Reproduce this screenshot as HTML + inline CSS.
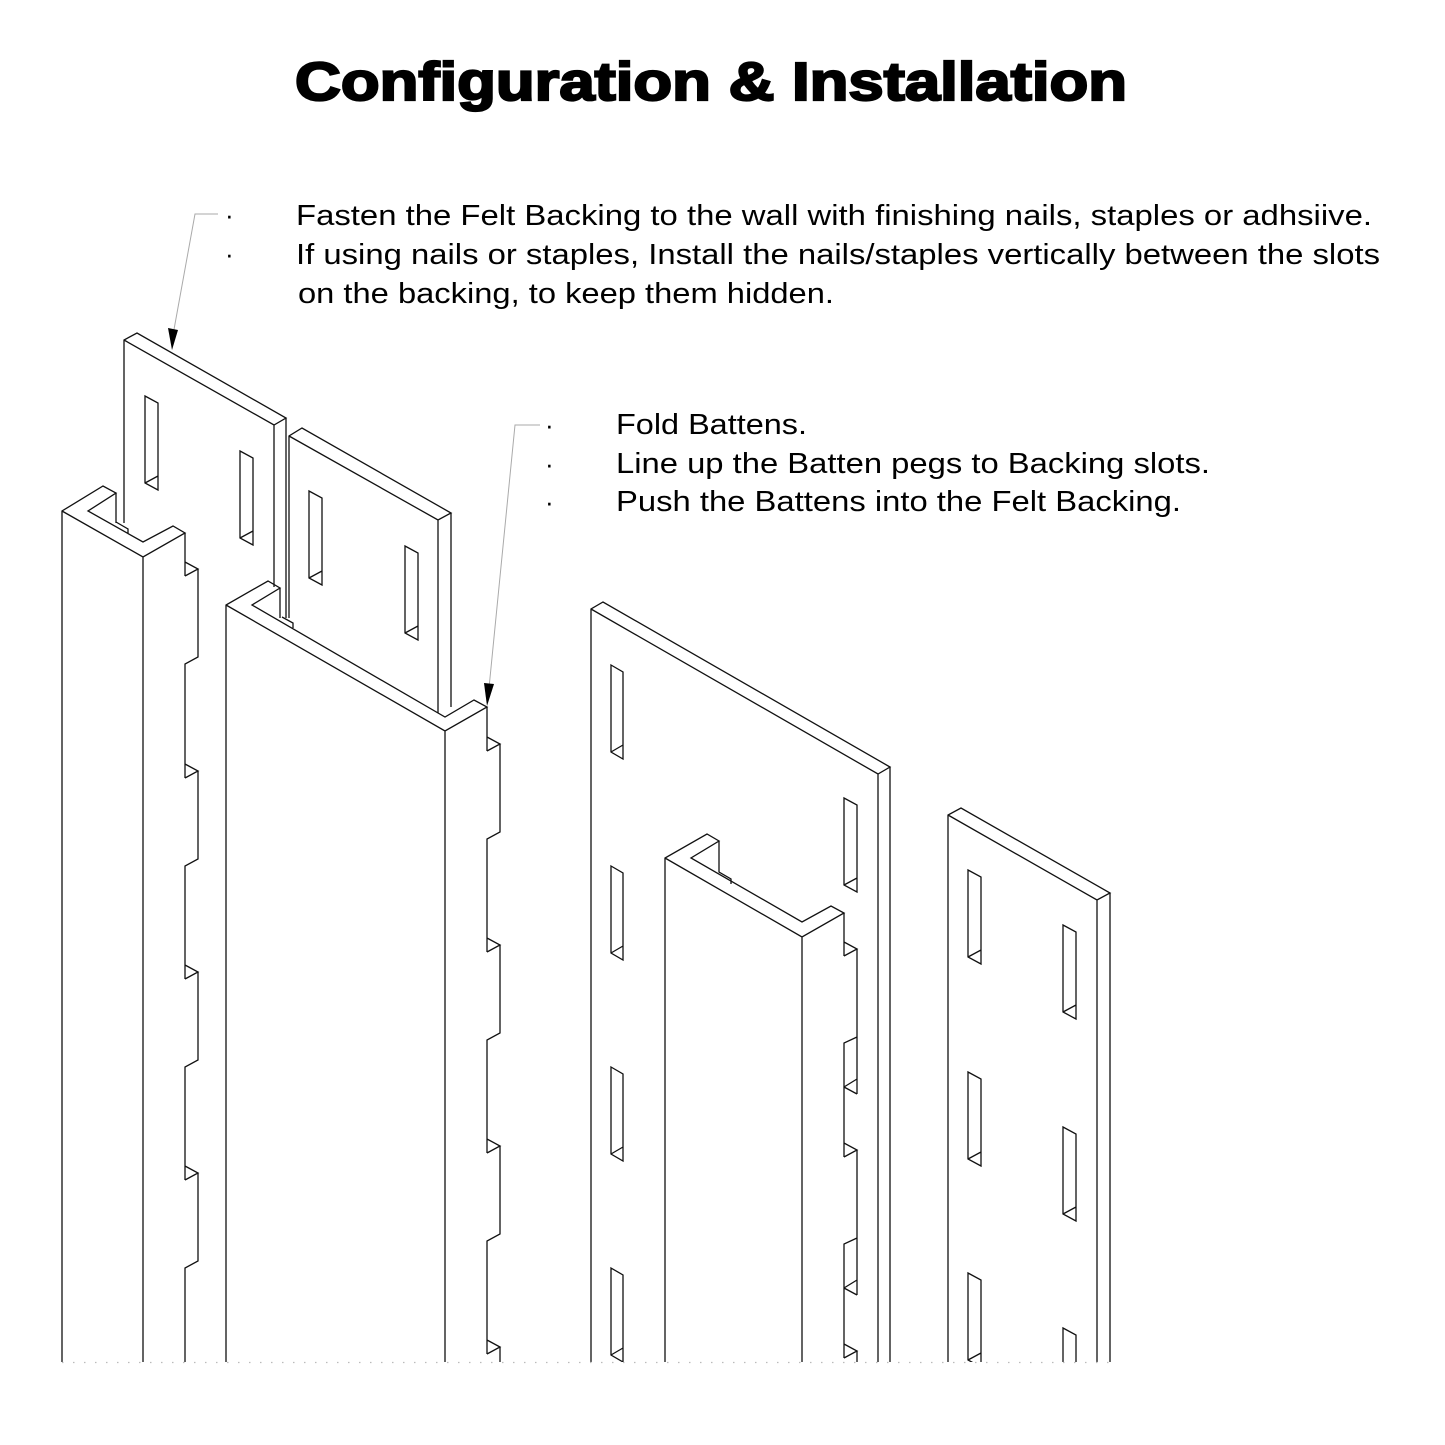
<!DOCTYPE html>
<html><head><meta charset="utf-8">
<style>
html,body{margin:0;padding:0;background:#fff;}
svg{display:block;}
</style></head>
<body>
<svg width="1445" height="1445" viewBox="0 0 1445 1445" xmlns="http://www.w3.org/2000/svg">
<rect width="1445" height="1445" fill="#fff"/>
<defs><clipPath id="c"><rect x="0" y="300" width="1445" height="1062"/></clipPath></defs>

<!-- Title -->
<text x="295" y="100" textLength="832" lengthAdjust="spacingAndGlyphs" font-family="Liberation Sans, Arial, sans-serif" font-weight="bold" font-size="54" fill="#000" stroke="#000" stroke-width="2.2">Configuration &amp; Installation</text>

<g font-family="Liberation Sans, Arial, sans-serif" font-size="29" fill="#000">
<text x="225" y="224" font-size="26">·</text>
<text x="225" y="263" font-size="26">·</text>
<text x="296" y="225" textLength="1076" lengthAdjust="spacingAndGlyphs">Fasten the Felt Backing to the wall with finishing nails, staples or adhsiive.</text>
<text x="296" y="264" textLength="1084" lengthAdjust="spacingAndGlyphs">If using nails or staples, Install the nails/staples vertically between the slots</text>
<text x="298" y="303" textLength="536" lengthAdjust="spacingAndGlyphs">on the backing, to keep them hidden.</text>

<text x="545" y="434" font-size="26">·</text>
<text x="545" y="473" font-size="26">·</text>
<text x="545" y="511" font-size="26">·</text>
<text x="616" y="434" textLength="191" lengthAdjust="spacingAndGlyphs">Fold Battens.</text>
<text x="616" y="473" textLength="594" lengthAdjust="spacingAndGlyphs">Line up the Batten pegs to Backing slots.</text>
<text x="616" y="511" textLength="565" lengthAdjust="spacingAndGlyphs">Push the Battens into the Felt Backing.</text>
</g>

<!-- leaders -->
<g stroke="#aaa" stroke-width="1" fill="none">
<polyline points="218,214 195,214 173,335"/>
<polyline points="540,425 515,425 489,688"/>
</g>
<polygon points="168,328 178,330 172,350" fill="#000"/>
<polygon points="484,683 494,684 487,706" fill="#000"/>

<g clip-path="url(#c)" stroke="#111" stroke-width="1.3" fill="none" stroke-linejoin="miter">
<!-- Backing 1 -->
<path d="M124 523 V340 L137 333 L286 418 L274 425 L124 340 M274 425 V587 M286 418 V618 M282 617 L293 623 V628"/>
<path d="M145 396 L158 403 V490 L145 483 Z M145 483 L158 476"/>
<path d="M240 451 L253 458 V545 L240 538 Z M240 538 L253 531"/>
<!-- Backing 2 -->
<path d="M289 618 V436 L302 428 L451 513 L438 520 L289 436 M438 520 V713 M451 513 V707"/>
<path d="M309 491 L322 498 V585 L309 578 Z M309 578 L322 571"/>
<path d="M405 546 L418 553 V640 L405 633 Z M405 633 L418 626"/>

<!-- Batten 1 -->
<path d="M62 1362 V511 L103 486 L116 493 L88 511 L143 542 L173 526 L185 533 L143 557 L62 511 M143 557 V1362 M116 493 V523 M116 522 L128 529 V534"/>
<path d="M185 533 V576 M185 562 L198 569 L185 576 M198 569 V657 L185 664 V778 M185 764 L198 771 L185 778 M198 771 V859 L185 866 V979 M185 965 L198 972 L185 979 M198 972 V1060 L185 1067 V1180 M185 1166 L198 1173 L185 1180 M198 1173 V1261 L185 1268 V1362"/>

<!-- Batten 2 -->
<path d="M226 1362 V605 L268 581 L280 588 L252 605 L445 717 L474 700 L487 707 L445 731 L226 605 M445 731 V1362 M280 588 V618"/>
<path d="M487 707 V751 M487 737 L500 744 L487 751 M500 744 V832 L487 839 V952 M487 938 L500 945 L487 952 M500 945 V1033 L487 1040 V1153 M487 1139 L500 1146 L487 1153 M500 1146 V1234 L487 1241 V1354 M487 1340 L500 1347 L487 1354 M500 1347 V1362"/>

<!-- Backing 3 -->
<path d="M591 1362 V609 L603 602 L890 767 L878 774 L591 609 M878 774 V1362 M890 767 V1362"/>
<path d="M611 665 L623 672 V759 L611 752 Z M611 752 L623 745"/>
<path d="M611 866 L623 873 V960 L611 953 Z M611 953 L623 946"/>
<path d="M611 1067 L623 1074 V1161 L611 1154 Z M611 1154 L623 1147"/>
<path d="M611 1268 L623 1275 V1362 L611 1355 Z M611 1355 L623 1348"/>
<path d="M844 798 L857 805 V892 L844 885 Z M844 885 L857 878"/>

<!-- Batten 3 -->
<path d="M665 1362 V858 L707 834 L719 841 L691 858 L802 922 L831 906 L844 913 L802 937 L665 858 M802 937 V1362 M719 841 V872 L731 879 V884"/>
<path d="M844 913 V956 M844 942 L857 949 L844 956 M857 949 V1094 M857 1037 L844 1043 V1157 M844 1087 L857 1079 M844 1087 L857 1094 M844 1143 L857 1150 L844 1157 M857 1150 V1295 M857 1238 L844 1244 V1358 M844 1288 L857 1280 M844 1288 L857 1295 M844 1344 L857 1351 L844 1358 M857 1351 V1362"/>

<!-- Backing 4 -->
<path d="M948 1362 V815 L961 808 L1110 893 L1097 900 L948 815 M1097 900 V1362 M1110 893 V1362"/>
<path d="M968 870 L981 877 V964 L968 957 Z M968 957 L981 950"/>
<path d="M968 1072 L981 1079 V1166 L968 1159 Z M968 1159 L981 1152"/>
<path d="M968 1273 L981 1280 V1367 L968 1360 Z M968 1360 L981 1353"/>
<path d="M1063 925 L1076 932 V1019 L1063 1012 Z M1063 1012 L1076 1005"/>
<path d="M1063 1127 L1076 1134 V1221 L1063 1214 Z M1063 1214 L1076 1207"/>
<path d="M1063 1328 L1076 1335 V1422 L1063 1415 Z"/>
</g>

<!-- bottom dotted cut line -->
<line x1="62" y1="1362.5" x2="1110" y2="1362.5" stroke="#bbb" stroke-width="1.2" stroke-dasharray="1.5 9.5"/>
</svg>
</body></html>
